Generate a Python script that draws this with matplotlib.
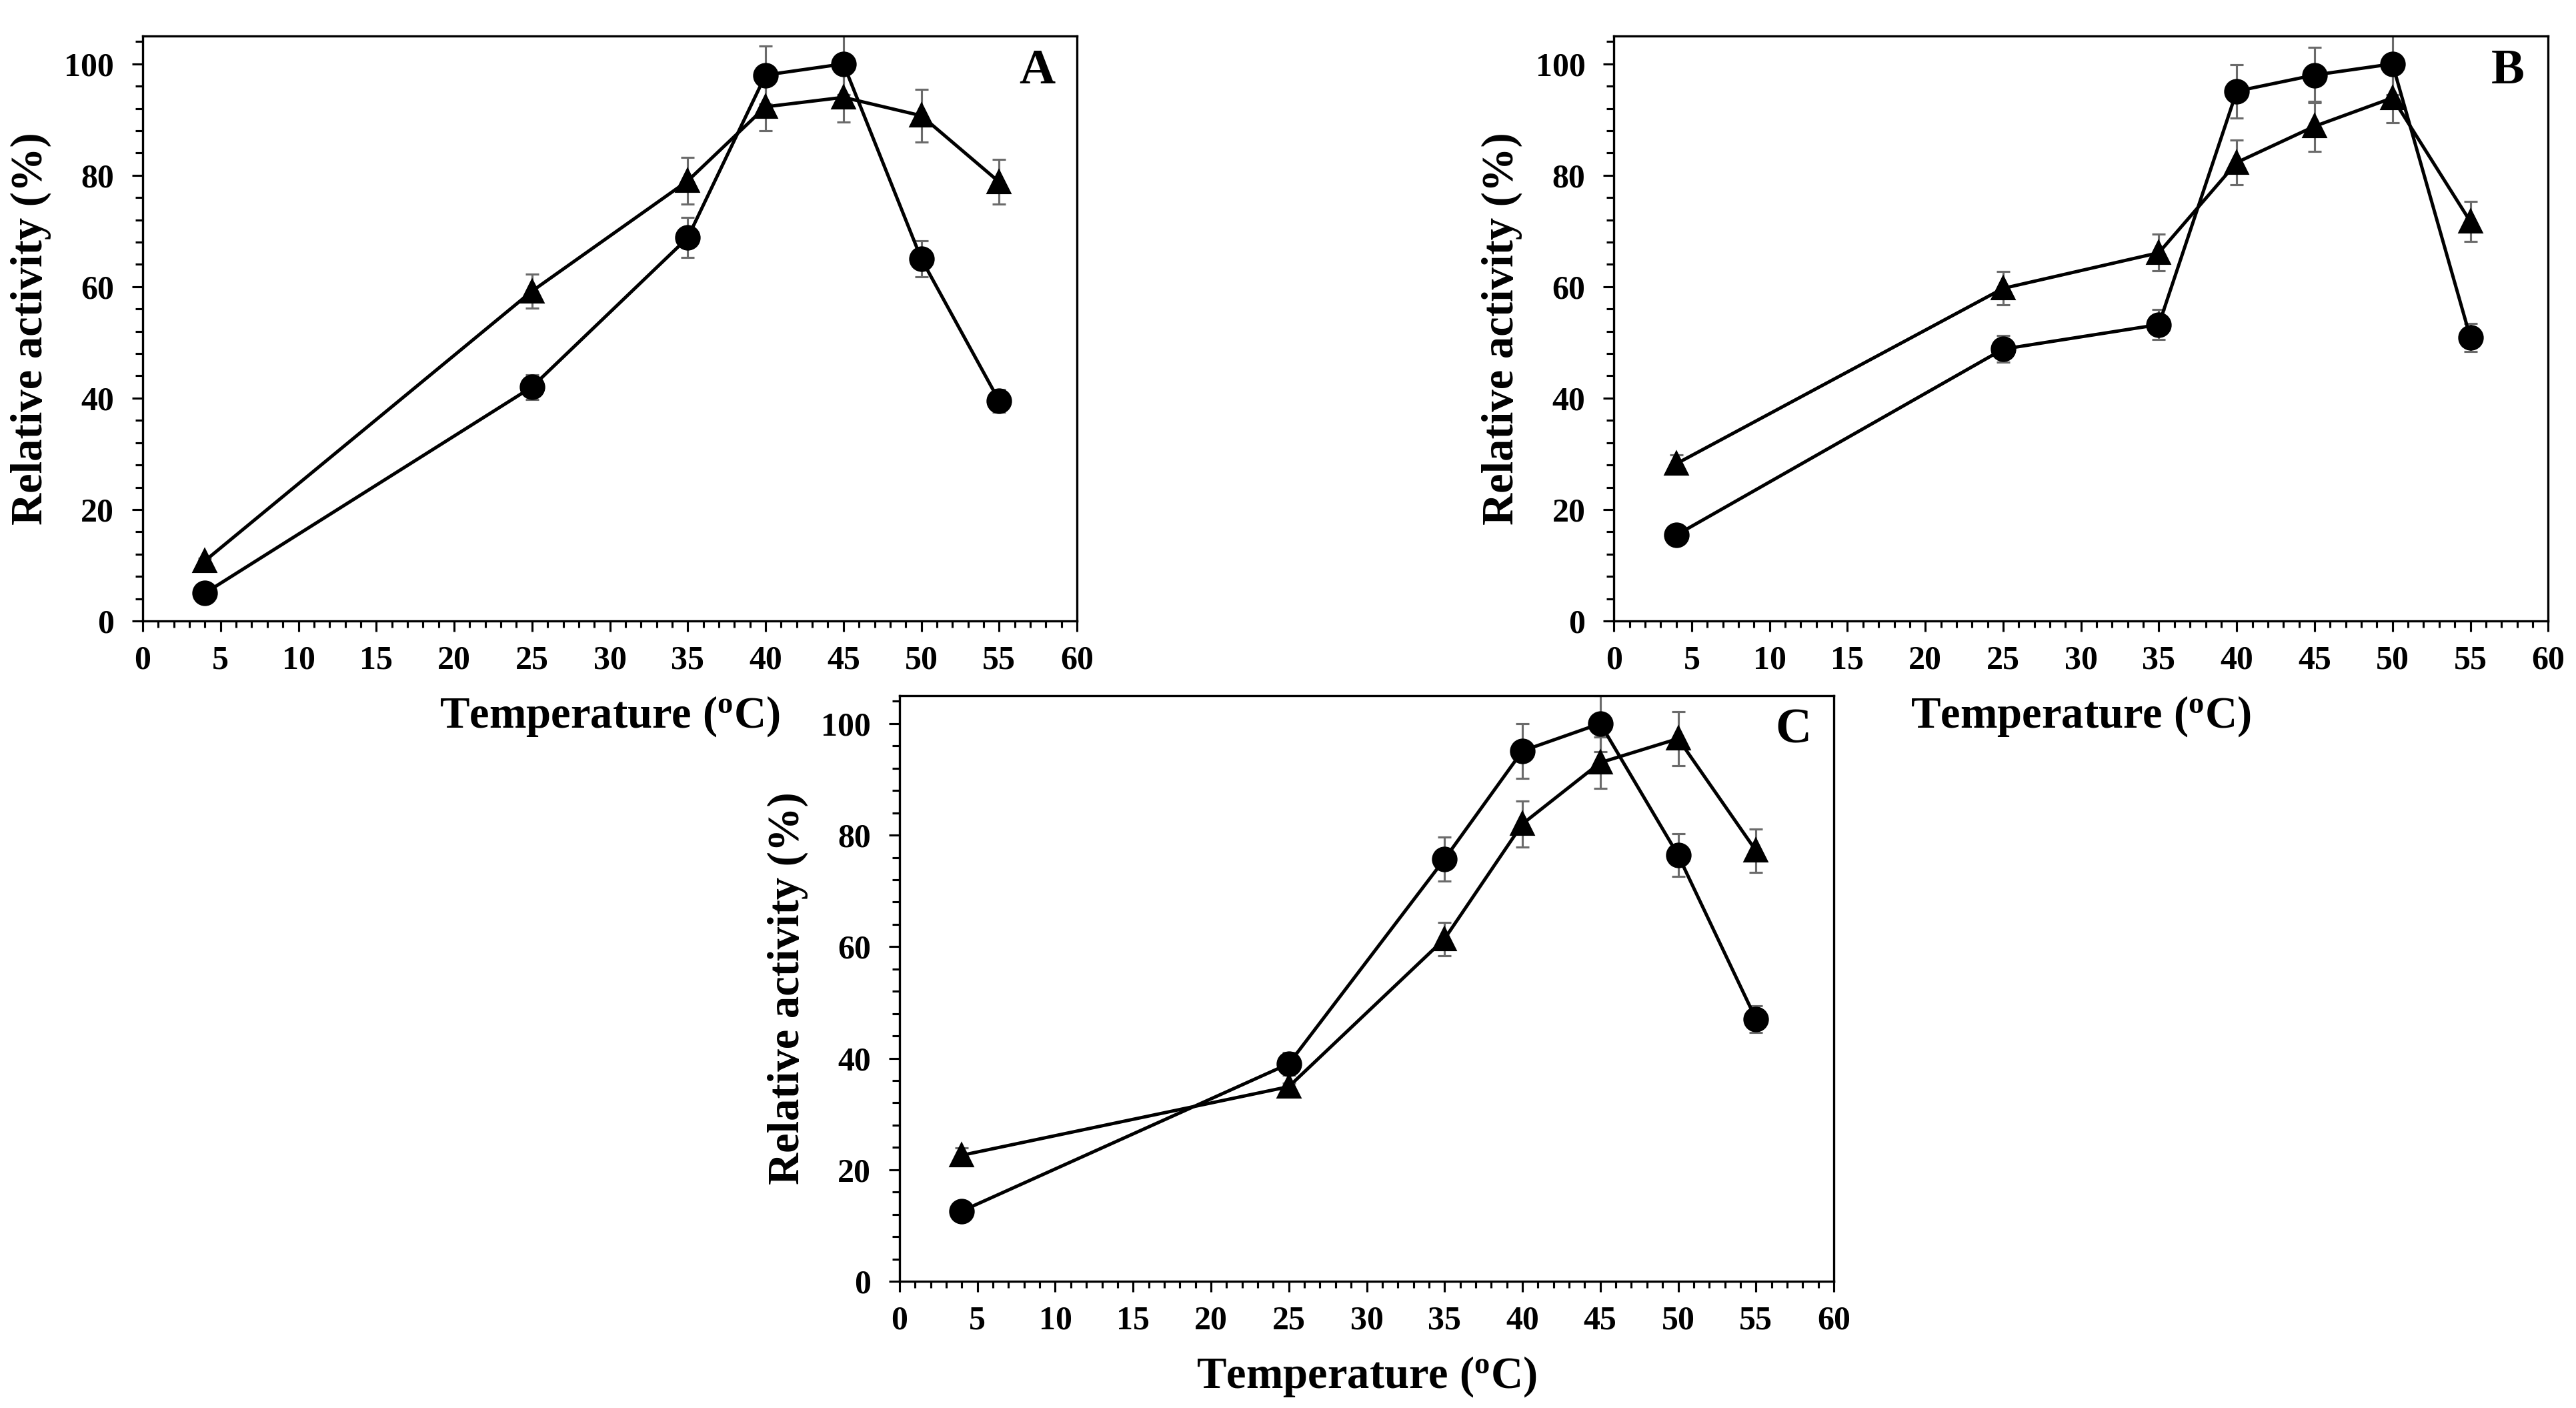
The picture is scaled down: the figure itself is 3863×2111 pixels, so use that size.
import matplotlib
matplotlib.use('Agg')
import matplotlib.pyplot as plt
from matplotlib.ticker import MultipleLocator

plt.rcParams['font.family'] = ['Liberation Serif', 'DejaVu Serif']
plt.rcParams['font.weight'] = 'bold'
plt.rcParams['mathtext.fontset'] = 'custom'
plt.rcParams['mathtext.rm'] = 'Liberation Serif:bold'

temps = [4, 25, 35, 40, 45, 50, 55]

# panel A
a_circle = [5.0, 42.0, 68.8, 98.0, 100.0, 65.0, 39.5]
a_circle_err = [0.5, 2.2, 3.6, 5.2, 5.5, 3.2, 2.0]
a_tri = [10.8, 59.2, 79.0, 92.3, 94.0, 90.7, 78.8]
a_tri_err = [0.5, 3.0, 4.2, 4.3, 4.5, 4.7, 4.0]

# panel B
b_circle = [15.4, 48.8, 53.2, 95.1, 98.0, 100.0, 50.9]
b_circle_err = [0.5, 2.4, 2.7, 4.8, 5.0, 5.5, 2.5]
b_tri = [28.2, 59.7, 66.1, 82.3, 88.8, 93.9, 71.7]
b_tri_err = [1.6, 3.0, 3.3, 4.0, 4.5, 4.5, 3.6]

# panel C
c_circle = [12.6, 39.0, 75.7, 95.1, 100.0, 76.4, 47.0]
c_circle_err = [0.5, 2.0, 3.9, 4.9, 5.0, 3.8, 2.4]
c_tri = [22.6, 34.9, 61.4, 82.0, 93.0, 97.3, 77.2]
c_tri_err = [1.3, 0.6, 3.0, 4.1, 4.6, 4.8, 3.9]

panels = [
    ('A', [0.0554, 0.5590, 0.3627, 0.4154], a_circle, a_circle_err, a_tri, a_tri_err),
    ('B', [0.6265, 0.5590, 0.3627, 0.4154], b_circle, b_circle_err, b_tri, b_tri_err),
    ('C', [0.3492, 0.0900, 0.3627, 0.4159], c_circle, c_circle_err, c_tri, c_tri_err),
]

fig = plt.figure(figsize=(3863 / 300, 2111 / 300), dpi=300)

for letter, rect, circ, circ_err, tri, tri_err in panels:
    ax = fig.add_axes(rect)
    for vals, errs, mk, ms in [(tri, tri_err, '^', 7.8), (circ, circ_err, 'o', 8.2)]:
        ax.errorbar(temps, vals, yerr=errs, fmt='none', ecolor='#6b6b6b',
                    elinewidth=0.75, capsize=2.4, capthick=0.75, zorder=2)
        ax.plot(temps, vals, color='black', linewidth=1.2, marker=mk,
                markersize=ms, markerfacecolor='black', markeredgecolor='black',
                zorder=3)
    ax.set_xlim(0, 60)
    ax.set_ylim(0, 105)
    ax.xaxis.set_major_locator(MultipleLocator(5))
    ax.xaxis.set_minor_locator(MultipleLocator(1))
    ax.yaxis.set_major_locator(MultipleLocator(20))
    ax.yaxis.set_minor_locator(MultipleLocator(4))
    ax.tick_params(which='major', direction='out', length=3.8, width=0.75,
                   labelsize=12)
    ax.tick_params(axis='x', which='major', pad=5)
    ax.tick_params(axis='y', which='major', pad=6.5)
    ax.tick_params(which='minor', direction='out', length=2.3, width=0.75)
    ax.tick_params(axis='y', which='minor', length=2.6)
    for sp in ax.spines.values():
        sp.set_linewidth(0.8)
    ax.set_xlabel(r'Temperature ($\mathrm{^o}$C)', fontsize=16, fontweight='bold',
                  labelpad=6.5)
    ax.set_ylabel('Relative activity (%)', fontsize=16, fontweight='bold')
    ax.yaxis.set_label_coords(-0.098, 0.5)
    ax.text(0.957, 0.94, letter, transform=ax.transAxes, ha='center', va='center',
            fontsize=18, fontweight='bold')

fig.savefig('out.png', dpi=300)
